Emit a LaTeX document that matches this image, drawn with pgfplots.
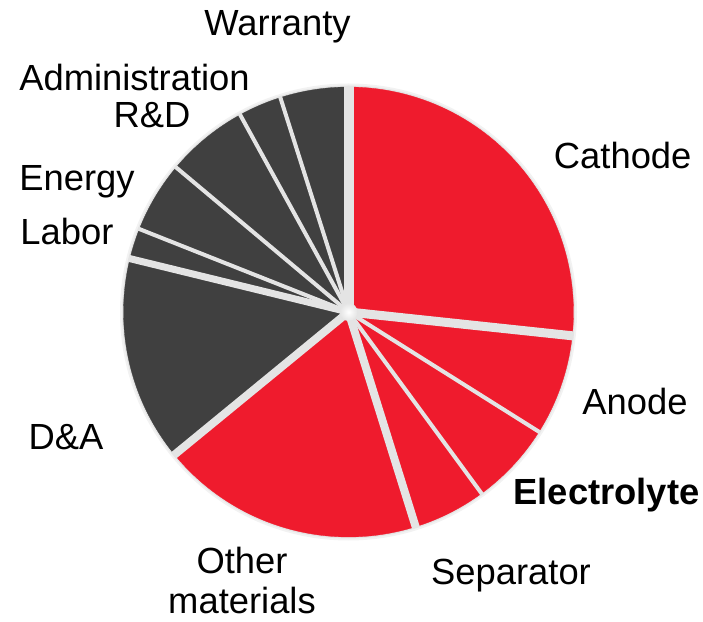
\documentclass[border=0pt]{standalone}
\usepackage{fontspec}
\setmainfont{Liberation Sans}
\usepackage{pgfplots}
\usepackage{pgfplotstable}
\pgfplotsset{compat=1.18}
\definecolor{cred}{RGB}{239,27,45}
\definecolor{cdark}{RGB}{64,64,64}
\definecolor{csep}{RGB}{228,228,228}
\newcommand\lf{\fontsize{36.5}{41}\selectfont}

% cost shares (percent), group 0 = materials (red), 1 = other (dark); gap = separator width after the slice
\pgfplotstableread{
name value group gap
Cathode 26.7 0 9
Anode 7.25 0 4
Electrolyte 6.0 0 4
Separator 5.25 0 8
Other 18.9 0 8
DA 14.75 1 7
Labor 2.2 1 4
Energy 5.1 1 4
RD 5.9 1 4
Admin 3.1 1 4
Warranty 4.9 1 10
}\costs

\def\cx{348.5}
\def\cy{310}
\def\R{225}

\begin{document}
\begin{tikzpicture}
\begin{axis}[
  x=1bp, y=1bp,
  xmin=0, xmax=703, ymin=0, ymax=622,
  hide axis, clip=false,
]
\addplot[draw=none] coordinates {(0,0) (703,622)};
% soft shadow
\fill[black!5] (axis cs:\cx,\cy) circle[radius=228.5bp];
\fill[black!10] (axis cs:\cx,\cy) circle[radius=226.5bp];
% wedges
\def\cum{90}
\pgfplotsforeachungrouped \i in {0,...,10}{
  \pgfplotstablegetelem{\i}{value}\of\costs \let\v=\pgfplotsretval
  \pgfplotstablegetelem{\i}{group}\of\costs \let\g=\pgfplotsretval
  \pgfmathsetmacro\a{\cum}
  \pgfmathsetmacro\b{\cum-360*\v/100.05}
  \ifnum\g=0 \def\col{cred}\else\def\col{cdark}\fi
  \edef\cmd{\noexpand\addplot[fill=\col, draw=\col, line width=0.3pt, domain=\b:\a, samples=60, variable=\noexpand\t]
     ({\cx+\R*cos(\noexpand\t)},{\cy+\R*sin(\noexpand\t)}) -- (axis cs:\cx,\cy) -- cycle;}
  \cmd
  \let\cum\b
}
% separators
\def\cum{90}
\pgfplotsforeachungrouped \i in {0,...,10}{
  \pgfplotstablegetelem{\i}{value}\of\costs \let\v=\pgfplotsretval
  \pgfplotstablegetelem{\i}{gap}\of\costs \let\w=\pgfplotsretval
  \pgfmathsetmacro\b{\cum-360*\v/100.05}
  \pgfmathsetmacro\ex{\cx+(\R+1)*cos(\b)}
  \pgfmathsetmacro\ey{\cy+(\R+1)*sin(\b)}
  \edef\cmd{\noexpand\draw[csep, line width=\w bp, line cap=butt] (axis cs:\cx,\cy) -- (axis cs:\ex,\ey);}
  \cmd
  \let\cum\b
}
\shade[inner color=white, outer color=csep] (axis cs:\cx,\cy) circle[radius=9bp];
% labels
\node[anchor=base, font=\lf] at (axis cs:277.5,586) {Warranty};
\node[anchor=base, font=\lf] at (axis cs:134.5,531.3) {Administration};
\node[anchor=base, font=\lf] at (axis cs:152,494.3) {R\&D};
\node[anchor=base, font=\lf] at (axis cs:77,431.3) {Energy};
\node[anchor=base, font=\lf] at (axis cs:67,377.7) {Labor};
\node[anchor=base, font=\lf] at (axis cs:622.7,453.7) {Cathode};
\node[anchor=base, font=\lf] at (axis cs:635,207) {Anode};
\node[anchor=base, font=\lf\bfseries] at (axis cs:606.5,117) {Electrolyte};
\node[anchor=base, font=\lf] at (axis cs:511,37) {Separator};
\node[anchor=base, font=\lf] at (axis cs:66,172) {D\&A};
\node[anchor=base, font=\lf] at (axis cs:242,48) {Other};
\node[anchor=base, font=\lf] at (axis cs:242,8) {materials};
\end{axis}
\end{tikzpicture}
\end{document}
